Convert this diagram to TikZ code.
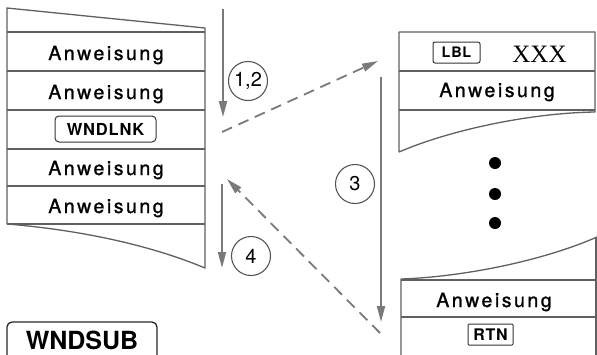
\documentclass[tikz,border=0pt]{standalone}
\usepackage{fontspec}
\setmainfont{TeX Gyre Heros}
\newfontfamily\anwfont[LetterSpace=13,FakeBold=1.2]{TeX Gyre Heros}
\newfontfamily\keyfont[LetterSpace=5]{TeX Gyre Heros}
\newfontfamily\serifx{Liberation Serif}
\usetikzlibrary{arrows.meta}
\definecolor{blockgray}{HTML}{606060}
\definecolor{arrowgray}{HTML}{7A7A7A}
\definecolor{circgray}{HTML}{555555}
\tikzset{
  blk/.style={draw=blockgray, line width=1.3pt, line join=round},
  anw/.style={font=\anwfont\fontsize{19.5}{20}\selectfont, inner sep=0pt, anchor=base},
  keybox/.style={draw=black!80, line width=1pt, rounded corners=3pt, inner sep=0pt,
     font=\keyfont\bfseries\fontsize{#1}{#1}\selectfont},
  flow/.style={draw=arrowgray, line width=1.8pt, -{Triangle[length=16pt,width=8pt]}},
  jump/.style={flow, dash pattern=on 11pt off 7pt},
  num/.style={circle, draw=circgray, line width=1.1pt, minimum size=39pt, inner sep=0pt,
     font=\fontsize{20}{20}\selectfont},
}
\begin{document}
\begin{tikzpicture}[x=1pt,y=-1pt]
\useasboundingbox (0,0) rectangle (597,354);
\begin{scope}
\clip (0,0) rectangle (597,354);
% left block
\draw[blk] (205,28) -- (7,8) -- (7,224) .. controls (80,230) and (150,245) .. (205,268) -- cycle;
\foreach \y in {32,71,110,149,186,224} \draw[blk] (7,\y) -- (205,\y);
\node[anw] (l1) at (106,60) {Anweisung};
\node[anw] (l2) at (106,99) {Anweisung};
\node[keybox=16.5, minimum width=101pt, minimum height=26pt, rounded corners=4pt] (wndlnk) at (105.5,129) {WNDLNK};
\node[anw] (l4) at (106,175) {Anweisung};
\node[anw] (l5) at (106,213) {Anweisung};
% WNDSUB label
\draw[draw=black!85, line width=1.3pt, rounded corners=5pt] (7,322) rectangle (157,372);
\node[font=\bfseries\fontsize{25}{25}\selectfont, inner sep=0pt, anchor=base] (wndsub) at (82,349) {WNDSUB};
% right top block
\draw[blk] (399,152) -- (399,32) -- (595,32) -- (595,112) .. controls (530,113) and (450,130) .. (399,152);
\draw[blk] (399,71) -- (595,71);
\draw[blk] (399,110) -- (595,110);
\node[keybox=14.5, minimum width=47pt, minimum height=21pt, rounded corners=2pt] (lbl) at (456.5,52.5) {LBL};
\node[font=\serifx\fontsize{25}{25}\selectfont, inner sep=0pt, anchor=base] (xxx) at (539.5,62) {XXX};
\node[anw] (r2) at (497,97) {Anweisung};
% dots
\fill (495,163) circle (6pt) coordinate (dot1);
\fill (495,194) circle (6pt) coordinate (dot2);
\fill (495,223) circle (6pt) coordinate (dot3);
% right bottom block
\draw[blk] (401,372) -- (401,279) .. controls (460,277) and (540,262) .. (597,237);
\draw[blk] (596,237) -- (596,372);
\draw[blk] (401,280) -- (596,280);
\draw[blk] (401,317) -- (596,317);
\node[anw] (r3) at (494,307) {Anweisung};
\node[keybox=16, minimum width=45pt, minimum height=21pt, rounded corners=1pt] (rtn) at (490.5,334.5) {RTN};
% arrows
\coordinate (a12s) at (223,9);
\coordinate (a12e) at (223,117);
\draw[flow] (a12s) -- (a12e);
\node[num] (n12) at (248,81) {1,2};
\coordinate (d1s) at (222,132);
\coordinate (d1e) at (378,61);
\draw[jump] (d1s) -- (d1e);
\coordinate (a3s) at (381,77);
\coordinate (a3e) at (381,322);
\draw[flow] (a3s) -- (a3e);
\node[num] (n3) at (355,184) {3};
\coordinate (a4s) at (222,184);
\coordinate (a4e) at (222,268);
\draw[flow] (a4s) -- (a4e);
\node[num] (n4) at (251,256) {4};
\coordinate (d2s) at (380,333);
\coordinate (d2e) at (227,179);
\draw[jump] (d2s) -- (d2e);
\end{scope}
\end{tikzpicture}
\end{document}
